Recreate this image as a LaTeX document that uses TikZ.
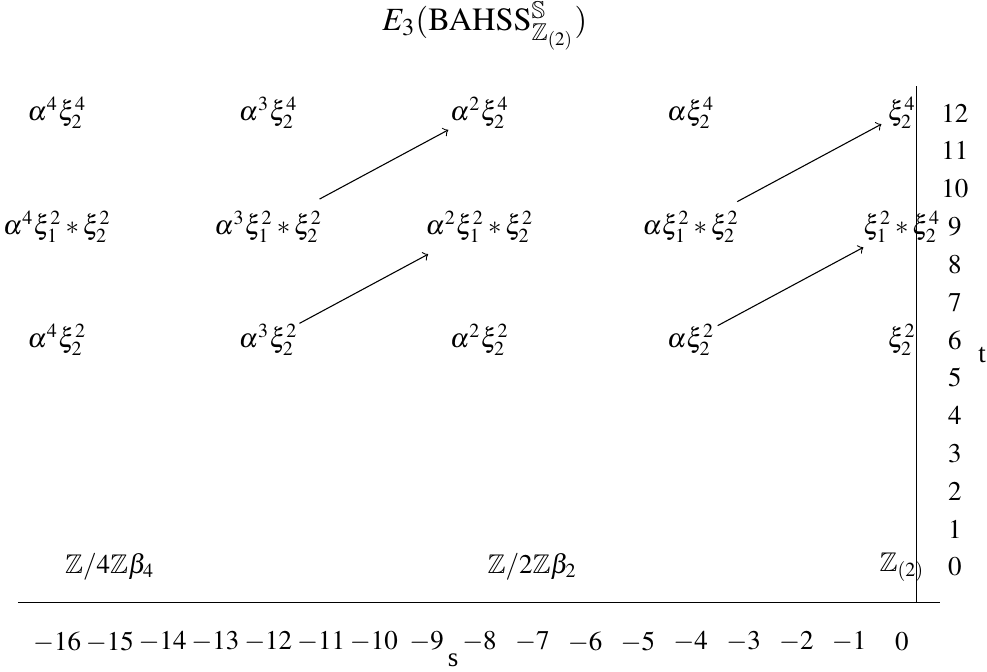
\documentclass[tikz,border=0pt]{standalone}
\usepackage{amssymb}
\usepackage{mathptmx}
\usepackage[no-math]{fontspec}
\setmainfont{Liberation Serif}

\begin{document}
\begin{tikzpicture}[x=19.556pt, y=14.011pt,
    cls/.style={circle, inner sep=0.5pt},
    lbl/.style={inner sep=0pt}]
  \useasboundingbox (-17.08,-2.75) rectangle (1.61,14.99);
  % 軸
  \coordinate (xa0) at (-16.74,-0.925);
  \coordinate (xa1) at (0.72,-0.925);
  \coordinate (ya0) at (0.284,-0.925);
  \coordinate (ya1) at (0.284,12.71);
  \draw[line width=0.35pt] (xa0) -- (xa1);
  \draw[line width=0.35pt] (ya0) -- (ya1);
  \foreach \s in {-16,...,0}
    \node[lbl] (sx\s) at (\s,-1.98) {$\s$};
  \foreach \t in {0,...,12}
    \node[lbl] (ty\t) at (1,\t) {$\t$};
  \node[lbl] (slbl) at (-8.5,-2.46) {s};
  \node[lbl] (tlbl) at (1.52,5.6) {t};
  \node[lbl, font=\large] (title) at (-7.9,14.3)
    {$E_3(\mathrm{BAHSS}^{\mathbb{S}}_{\mathbb{Z}_{(2)}})$};
  % t = 12
  \node[cls] (a4x4) at (-16,12) {$\alpha^4\xi_2^4$};
  \node[cls] (a3x4) at (-12,12) {$\alpha^3\xi_2^4$};
  \node[cls] (a2x4) at (-8,12) {$\alpha^2\xi_2^4$};
  \node[cls] (a1x4) at (-4,12) {$\alpha\xi_2^4$};
  \node[cls] (a0x4) at (0,12) {$\xi_2^4$};
  % t = 9
  \node[cls] (a4xx) at (-16,9) {$\alpha^4\xi_1^2\ast\xi_2^2$};
  \node[cls] (a3xx) at (-12,9) {$\alpha^3\xi_1^2\ast\xi_2^2$};
  \node[cls] (a2xx) at (-8,9) {$\alpha^2\xi_1^2\ast\xi_2^2$};
  \node[cls] (a1xx) at (-4,9) {$\alpha\xi_1^2\ast\xi_2^2$};
  \node[cls] (a0xx) at (0,9) {$\xi_1^2\ast\xi_2^4$};
  % t = 6
  \node[cls] (a4x2) at (-16,6) {$\alpha^4\xi_2^2$};
  \node[cls] (a3x2) at (-12,6) {$\alpha^3\xi_2^2$};
  \node[cls] (a2x2) at (-8,6) {$\alpha^2\xi_2^2$};
  \node[cls] (a1x2) at (-4,6) {$\alpha\xi_2^2$};
  \node[cls] (a0x2) at (0,6) {$\xi_2^2$};
  % t = 0
  \node[cls] (b4) at (-15,0) {$\mathbb{Z}/4\mathbb{Z}\beta_4$};
  \node[cls] (b2) at (-7,0) {$\mathbb{Z}/2\mathbb{Z}\beta_2$};
  \node[cls] (z2) at (0,0) {$\mathbb{Z}_{(2)}$};
  % 微分
  \draw[->] (a3xx) -- (a2x4);
  \draw[->] (a3x2) -- (a2xx);
  \draw[->] (a1xx) -- (a0x4);
  \draw[->] (a1x2) -- (a0xx);
\end{tikzpicture}
\end{document}
